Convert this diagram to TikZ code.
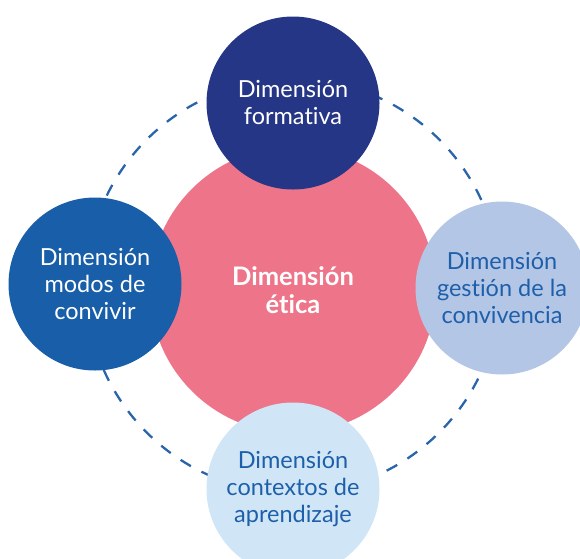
\documentclass[tikz,border=0pt]{standalone}
\usepackage{fontspec}
\setmainfont[Ligatures=NoCommon]{Lato}
\definecolor{formativa}{HTML}{263686}
\definecolor{convivir}{HTML}{185EA8}
\definecolor{etica}{HTML}{EE7489}
\definecolor{gestion}{HTML}{B4C6E6}
\definecolor{contextos}{HTML}{D0E6F6}
\definecolor{dimtext}{HTML}{1E5FAA}
\definecolor{ring}{HTML}{2A64AA}
\tikzset{dim/.style={circle, minimum size=173pt, inner sep=0pt, align=center,
    font=\fontsize{23.5}{27}\selectfont}}
\begin{document}
\begin{tikzpicture}[x=1pt,y=-1pt]
    \useasboundingbox (0,0) rectangle (580,558);
    \coordinate (c) at (293,286);
    \draw[ring, line width=2.3pt, dash pattern=on 12pt off 12pt] (c) circle[radius=207];
    \node[circle, fill=etica, minimum size=286pt, inner sep=0pt, text=white, align=center,
        font=\bfseries\fontsize{25.5}{28}\selectfont] (etica) at (293,290) {Dimensión\\ética};
    \foreach \name/\x/\y/\fillc/\txtc/\txt in {
        formativa/293/103/formativa/white/Dimensión\\formativa,
        convivir/95/284/convivir/white/Dimensión\\modos de\\convivir,
        gestion/502/288/gestion/dimtext/Dimensión\\gestión de la\\convivencia,
        contextos/293/489/contextos/dimtext/Dimensión\\contextos de\\aprendizaje}
        \node[dim, fill=\fillc, text=\txtc] (\name) at (\x,\y) {\txt};
\end{tikzpicture}
\end{document}
